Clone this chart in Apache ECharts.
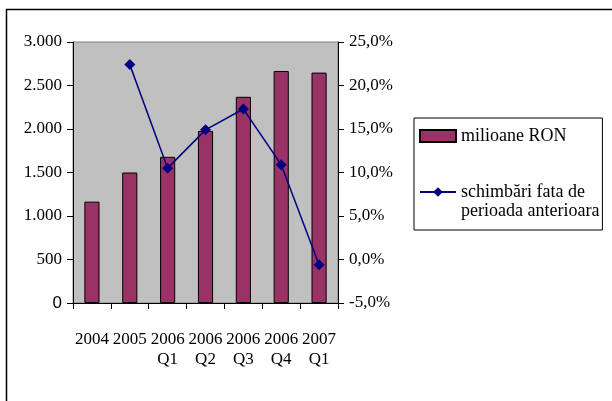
<!DOCTYPE html>
<html>
<head>
<meta charset="utf-8">
<script src="https://cdn.jsdelivr.net/npm/echarts@6/dist/echarts.min.js"></script>
<style>
  html, body { margin: 0; padding: 0; background: #fff; }
  #chart { width: 612px; height: 401px; }
</style>
</head>
<body>
<div id="chart"></div>
<script>
// date
var categories = ['2004', '2005', '2006\nQ1', '2006\nQ2', '2006\nQ3', '2006\nQ4', '2007\nQ1'];
var milioaneRON = [1165, 1500, 1680, 1978, 2370, 2667, 2648];
var schimbari = [null, 22.4, 10.5, 14.9, 17.3, 10.9, -0.6];
var leftTicks = [0, 3000, 500];   // min, max, pas
var rightTicks = [-5, 25, 5];

var serif = '"Liberation Serif", "Times New Roman", serif';

function fmtThousands(v) {
  if (v === 0) return '{s|0}';
  return String(v).replace(/\B(?=(\d{3})+(?!\d))/g, '.');
}

function fmtPercent(v) {
  return v.toFixed(1).replace('.', ',') + '%';
}

var myChart = echarts.init(document.getElementById('chart'));
var option = {
  backgroundColor: '#fff',
  animation: false,
  textStyle: { fontFamily: serif },
  grid: {
    show: true,
    left: 73,
    right: 274,
    top: 42,
    bottom: 98,
    backgroundColor: '#c0c0c0',
    borderColor: '#808080',
    borderWidth: 1
  },
  legend: {
    orient: 'vertical',
    left: 414,
    top: 118,
    padding: [8.5, 3, 9.5, 5],
    itemGap: 18,
    itemWidth: 36,
    itemHeight: 12,
    borderColor: '#000',
    borderWidth: 1,
    textStyle: { fontFamily: serif, fontSize: 18, color: '#000', lineHeight: 19 },
    // linie goala in fata, ca primul rand sa stea in dreptul simbolului
    formatter: function(name) {
      return name.indexOf('\n') >= 0 ? '\u00a0\n' + name : name;
    },
    data: [
      { name: 'milioane RON', icon: 'rect' },
      { name: 'schimbări fata de\nperioada anterioara' }
    ]
  },
  xAxis: {
    type: 'category',
    data: categories,
    axisLine: { lineStyle: { color: '#000' } },
    axisTick: { show: true, interval: 0, length: 6, lineStyle: { color: '#000' } },
    axisLabel: {
      interval: 0,
      margin: 27,
      color: '#000',
      fontFamily: serif,
      fontSize: 17,
      lineHeight: 20
    }
  },
  yAxis: [
    {
      type: 'value',
      min: leftTicks[0],
      max: leftTicks[1],
      interval: leftTicks[2],
      splitLine: { show: false },
      axisLine: { show: true, lineStyle: { color: '#000' } },
      axisTick: { show: true, length: 6, lineStyle: { color: '#000' } },
      axisLabel: {
        margin: 11,
        color: '#000',
        fontFamily: serif,
        fontSize: 17,
        formatter: fmtThousands,
        rich: { s: { fontFamily: '"Liberation Sans", Arial, sans-serif', fontSize: 17, color: '#000' } }
      }
    },
    {
      type: 'value',
      min: rightTicks[0],
      max: rightTicks[1],
      interval: rightTicks[2],
      position: 'right',
      splitLine: { show: false },
      axisLine: { show: true, lineStyle: { color: '#000' } },
      axisTick: { show: true, length: 6, lineStyle: { color: '#000' } },
      axisLabel: {
        margin: 11,
        color: '#000',
        fontFamily: serif,
        fontSize: 17,
        formatter: fmtPercent
      }
    }
  ],
  series: [
    {
      name: 'milioane RON',
      type: 'bar',
      yAxisIndex: 0,
      barWidth: '40%',
      data: milioaneRON,
      itemStyle: { color: '#993366', borderColor: '#000', borderWidth: 1 }
    },
    {
      name: 'schimbări fata de\nperioada anterioara',
      type: 'line',
      yAxisIndex: 1,
      data: schimbari,
      connectNulls: false,
      symbol: 'diamond',
      symbolSize: 11,
      lineStyle: { color: '#000080', width: 1.5 },
      itemStyle: { color: '#000080' }
    }
  ],
  graphic: [
    { type: 'line', shape: { x1: 6, y1: 9.5, x2: 612, y2: 9.5 }, style: { stroke: '#000', lineWidth: 1.5 } },
    { type: 'line', shape: { x1: 6.5, y1: 9, x2: 6.5, y2: 401 }, style: { stroke: '#000', lineWidth: 1.5 } }
  ]
};
myChart.setOption(option, true);
</script>
</body>
</html>
